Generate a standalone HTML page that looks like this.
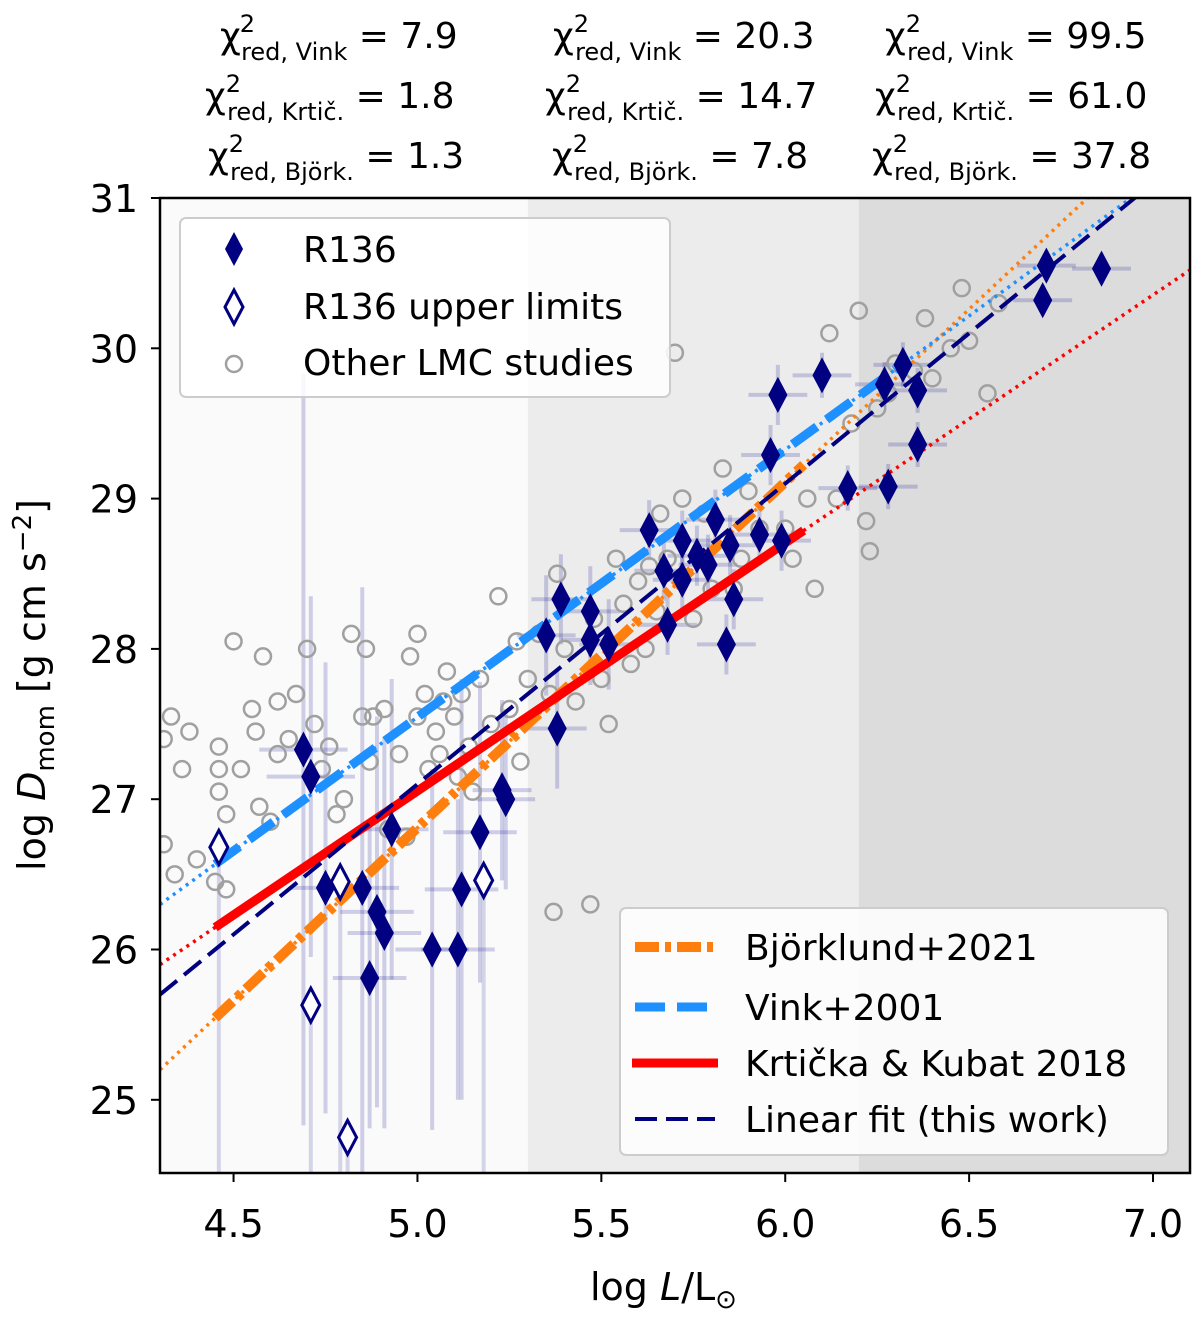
<!DOCTYPE html>
<html><head><meta charset="utf-8"><style>
body{margin:0;background:#fff;}
svg{display:block;font-family:"DejaVu Sans","Liberation Sans",sans-serif;}
</style></head><body>
<svg id="c" width="1200" height="1329" viewBox="0 0 1200 1329"></svg>
<script>
const xTicks=[4.5,5.0,5.5,6.0,6.5,7.0];
const yTicks=[25,26,27,28,29,30,31];
const r136X=[4.69,4.71,4.75,4.85,4.87,4.89,4.91,4.93,5.04,5.11,5.12,5.17,5.23,5.24,5.35,5.38,5.39,5.47,5.47,5.52,5.63,5.68,5.67,5.72,5.72,5.76,5.79,5.81,5.85,5.86,5.84,5.93,5.96,5.98,5.99,6.10,6.17,6.27,6.28,6.32,6.36,6.36,6.70,6.71,6.86];
const r136Y=[27.33,27.15,26.41,26.41,25.81,26.25,26.11,26.80,26.0,26.0,26.40,26.78,27.06,27.0,28.09,27.47,28.33,28.25,28.06,28.03,28.79,28.16,28.52,28.72,28.46,28.62,28.56,28.86,28.69,28.33,28.03,28.76,29.29,29.69,28.72,29.82,29.07,29.76,29.08,29.89,29.72,29.36,30.32,30.55,30.53];
const r136YErr=[2.5,1.2,1.5,2.0,1.0,1.3,1.3,1.0,1.2,1.0,1.4,1.0,0.6,0.6,0.4,0.4,0.3,0.3,0.3,0.3,0.2,0.2,0.2,0.2,0.2,0.2,0.2,0.2,0.2,0.2,0.2,0.2,0.2,0.2,0.2,0.15,0.15,0.15,0.15,0.15,0.15,0.15,0.1,0.1,0.1];
const r136XErr=[0.12,0.12,0.1,0.1,0.1,0.1,0.1,0.1,0.1,0.1,0.1,0.1,0.08,0.08,0.08,0.08,0.08,0.08,0.08,0.08,0.08,0.08,0.08,0.08,0.08,0.08,0.08,0.08,0.08,0.08,0.08,0.08,0.08,0.08,0.08,0.08,0.08,0.08,0.08,0.08,0.08,0.08,0.08,0.08,0.08];
const ulX=[4.46,4.71,4.79,4.81,5.18];
const ulY=[26.68,25.63,26.45,24.75,26.46];
const lmcX=[4.31,4.33,4.36,4.38,4.31,4.34,4.40,4.46,4.46,4.46,4.48,4.45,4.48,4.50,4.52,4.55,4.56,4.58,4.57,4.60,4.62,4.62,4.65,4.67,4.70,4.72,4.74,4.76,4.78,4.80,4.82,4.85,4.86,4.87,4.88,4.91,4.92,4.95,4.97,4.98,5.00,5.00,5.02,5.03,5.05,5.06,5.07,5.08,5.10,5.11,5.12,5.14,5.15,5.17,5.20,5.22,5.25,5.27,5.28,5.30,5.33,5.36,5.38,5.37,5.40,5.43,5.47,5.48,5.50,5.52,5.54,5.56,5.58,5.60,5.62,5.63,5.65,5.66,5.68,5.72,5.75,5.78,5.80,5.83,5.86,5.88,5.90,5.93,6.00,6.02,6.06,6.08,6.12,6.14,6.18,6.20,6.22,6.23,6.25,6.28,6.30,6.35,6.38,6.40,6.45,6.48,6.50,6.55,6.58,5.70];
const lmcY=[27.4,27.55,27.2,27.45,26.7,26.5,26.6,27.35,27.2,27.05,26.9,26.45,26.4,28.05,27.2,27.6,27.45,27.95,26.95,26.85,27.65,27.3,27.4,27.7,28.0,27.5,27.2,27.35,26.9,27.0,28.1,27.55,28.0,27.25,27.55,27.6,26.8,27.3,26.75,27.95,28.1,27.55,27.7,27.2,27.45,27.3,27.65,27.85,27.55,27.15,27.7,27.35,27.05,27.8,27.5,28.35,27.6,28.05,27.25,27.8,28.1,27.7,28.5,26.25,28.0,27.65,26.3,28.2,27.8,27.5,28.6,28.3,27.9,28.45,28.0,28.55,28.25,28.9,28.6,29.0,28.2,28.9,28.4,29.2,28.4,28.6,29.05,28.8,28.8,28.6,29.0,28.4,30.1,29.0,29.5,30.25,28.85,28.65,29.6,29.7,29.9,29.85,30.2,29.8,30.0,30.4,30.05,29.7,30.3,29.97];
// models: [intercept at 4.3, slope, solid start, solid end, dotted end]
const bjork=[25.2,2.3,4.45,6.05,7.1];
const vink=[26.3,1.78,4.45,6.3,7.1];
const krt=[25.9,1.65,4.45,6.05,7.1];
const fit=[25.7,2.0,4.3,7.1,7.1];

const NS='http://www.w3.org/2000/svg';
const svg=document.getElementById('c');
const L=160,R=1190,T=198,B=1173,X0=4.3,X1=(1190-233)/368+4.5,Y0=24.513,Y1=31;
const sx=v=>L+(v-X0)/(X1-X0)*(R-L);
const sy=v=>B-(v-Y0)/(Y1-Y0)*(B-T);
function el(tag,at,parent){const e=document.createElementNS(NS,tag);for(const k in at)e.setAttribute(k,at[k]);(parent||svg).appendChild(e);return e;}

let r;
r=el('rect',{x:L,y:T,width:sx(5.3)-L,height:B-T,fill:'#fafafa'});


r=el('rect',{x:sx(5.3),y:T,width:sx(6.2)-sx(5.3),height:B-T,fill:'#ececec'});


r=el('rect',{x:sx(6.2),y:T,width:R-sx(6.2),height:B-T,fill:'#dcdcdc'});



const clip=el('clipPath',{id:'cp'});el('rect',{x:L,y:T,width:R-L,height:B-T},clip);
const g=el('g',{'clip-path':'url(#cp)'});



for(let i=0;i<r136X.length;i++){
  const x=r136X[i],y=r136Y[i];
  let e=el('line',{x1:sx(x),x2:sx(x),y1:sy(y-r136YErr[i]),y2:sy(y+r136YErr[i]),stroke:'#00008b','stroke-opacity':0.18,'stroke-width':4},g);
  
  
  e=el('line',{x1:sx(x-r136XErr[i]),x2:sx(x+r136XErr[i]),y1:sy(y),y2:sy(y),stroke:'#00008b','stroke-opacity':0.18,'stroke-width':4},g);
  
  
}
for(let i=0;i<ulX.length;i++){
  const e=el('line',{x1:sx(ulX[i]),x2:sx(ulX[i]),y1:sy(ulY[i]),y2:sy(24.5),stroke:'#00008b','stroke-opacity':0.15,'stroke-width':4},g);
  
  
}
for(let i=0;i<lmcX.length;i++){
  const c=el('circle',{cx:sx(lmcX[i]),cy:sy(lmcY[i]),r:8,fill:'none',stroke:'#a0a0a0','stroke-width':2.5},g);
  
  
}
function model(m,color,w,dash,name){
  const f=x=>m[0]+m[1]*(x-4.3);
  let d=el('line',{x1:sx(4.3),y1:sy(f(4.3)),x2:sx(m[4]),y2:sy(f(m[4])),stroke:color,'stroke-width':3.5,'stroke-dasharray':'3 5'},g);
  
  
  const s=el('line',{x1:sx(m[2]),y1:sy(f(m[2])),x2:sx(m[3]),y2:sy(f(m[3])),stroke:color,'stroke-width':w,'stroke-dasharray':dash},g);
  
  
}
model(bjork,'#ff7f0e',10,'24 6 6 6','bjorklund');
model(vink,'#1e90ff',9,'30 12','vink');
model(krt,'#ff0000',9,'none','krticka');
{const f=x=>fit[0]+fit[1]*(x-4.3);
const l=el('line',{x1:sx(4.3),y1:sy(f(4.3)),x2:sx(7.1),y2:sy(f(7.1)),stroke:'#000080','stroke-width':4,'stroke-dasharray':'22 9'},g);

}
function diamond(cx,cy,filled,parent){
  return el('path',{d:`M${cx},${cy-17}L${cx+9},${cy}L${cx},${cy+17}L${cx-9},${cy}Z`,fill:filled?'#000080':'#fff',stroke:'#000080','stroke-width':filled?1:3},parent||g);
}
for(let i=0;i<r136X.length;i++){
  const d=diamond(sx(r136X[i]),sy(r136Y[i]),true);
  
  
}
for(let i=0;i<ulX.length;i++){
  const d=diamond(sx(ulX[i]),sy(ulY[i]),false);
  
  
}
const fr=el('rect',{x:L,y:T,width:R-L,height:B-T,fill:'none',stroke:'#000','stroke-width':2.5});


for(const v of xTicks){
  const t=el('line',{x1:sx(v),x2:sx(v),y1:B,y2:B+9,stroke:'#000','stroke-width':2});
  
  
  const tx=el('text',{x:sx(v),y:B+64,'font-size':38,'text-anchor':'middle'});tx.textContent=v.toFixed(1);
  
  
}
for(const v of yTicks){
  const t=el('line',{x1:L-9,x2:L,y1:sy(v),y2:sy(v),stroke:'#000','stroke-width':2});
  
  
  const tx=el('text',{x:L-22,y:sy(v)+14,'font-size':38,'text-anchor':'end'});tx.textContent=v;
  
  
}
</script>
<svg style="position:absolute;left:0;top:0" width="1200" height="1329">
 <text x="590" y="1300" font-size="38">log <tspan font-style="italic">L</tspan>/L<tspan font-size="26" dy="8">⊙</tspan></text>
 <text transform="translate(45,685) rotate(-90)" font-size="38" text-anchor="middle">log <tspan font-style="italic">D</tspan><tspan font-size="26" dy="9">mom</tspan><tspan dy="-9"> [g cm s</tspan><tspan font-size="26" dy="-14">−2</tspan><tspan dy="14">]</tspan></text>
 <g font-size="36">
  <text x="220" y="48">χ<tspan font-size="24" dy="-16" dx="-1">2</tspan><tspan font-size="24" dx="-14" dy="28">red, Vink</tspan><tspan dy="-12"> = 7.9</tspan></text>
  <text x="205" y="108">χ<tspan font-size="24" dy="-16">2</tspan><tspan font-size="24" dx="-14" dy="28">red, Krtič.</tspan><tspan dy="-12">  = 1.8</tspan></text>
  <text x="208" y="168">χ<tspan font-size="24" dy="-16">2</tspan><tspan font-size="24" dx="-14" dy="28">red, Björk.</tspan><tspan dy="-12">  = 1.3</tspan></text>
  <text x="553" y="48">χ<tspan font-size="24" dy="-16">2</tspan><tspan font-size="24" dx="-14" dy="28">red, Vink</tspan><tspan dy="-12"> = 20.3</tspan></text>
  <text x="545" y="108">χ<tspan font-size="24" dy="-16">2</tspan><tspan font-size="24" dx="-14" dy="28">red, Krtič.</tspan><tspan dy="-12"> = 14.7</tspan></text>
  <text x="552" y="168">χ<tspan font-size="24" dy="-16">2</tspan><tspan font-size="24" dx="-14" dy="28">red, Björk.</tspan><tspan dy="-12">  = 7.8</tspan></text>
  <text x="885" y="48">χ<tspan font-size="24" dy="-16">2</tspan><tspan font-size="24" dx="-14" dy="28">red, Vink</tspan><tspan dy="-12"> = 99.5</tspan></text>
  <text x="875" y="108">χ<tspan font-size="24" dy="-16">2</tspan><tspan font-size="24" dx="-14" dy="28">red, Krtič.</tspan><tspan dy="-12"> = 61.0</tspan></text>
  <text x="872" y="168">χ<tspan font-size="24" dy="-16">2</tspan><tspan font-size="24" dx="-14" dy="28">red, Björk.</tspan><tspan dy="-12">  = 37.8</tspan></text>
 </g>
 <g>
  <rect x="180" y="218" width="490" height="179" rx="6" fill="#fff" fill-opacity="0.85" stroke="#ccc" stroke-width="2"/>
  <path d="M234,232L243,249L234,266L225,249Z" fill="#000080"/>
  <text x="303" y="262" font-size="36">R136</text>
  <path d="M234,290L243,307L234,324L225,307Z" fill="#fff" stroke="#000080" stroke-width="3"/>
  <text x="303" y="319" font-size="36">R136 upper limits</text>
  <circle cx="234" cy="364" r="8" fill="none" stroke="#a0a0a0" stroke-width="2.5"/>
  <text x="303" y="375" font-size="36">Other LMC studies</text>
 </g>
 <g>
  <rect x="620" y="908" width="548" height="247" rx="6" fill="#fff" fill-opacity="0.85" stroke="#ccc" stroke-width="2"/>
  <line x1="635" x2="715" y1="947" y2="947" stroke="#ff7f0e" stroke-width="10" stroke-dasharray="24 6 6 6"/>
  <text x="745" y="960" font-size="36">Björklund+2021</text>
  <line x1="635" x2="715" y1="1007" y2="1007" stroke="#1e90ff" stroke-width="9" stroke-dasharray="30 12"/>
  <text x="745" y="1020" font-size="36">Vink+2001</text>
  <line x1="632" x2="718" y1="1063" y2="1063" stroke="#ff0000" stroke-width="9"/>
  <text x="745" y="1076" font-size="36">Krtička &amp; Kubat 2018</text>
  <line x1="635" x2="715" y1="1119" y2="1119" stroke="#000080" stroke-width="4" stroke-dasharray="22 9"/>
  <text x="745" y="1132" font-size="36">Linear fit (this work)</text>
 </g>
</svg>
</body></html>
